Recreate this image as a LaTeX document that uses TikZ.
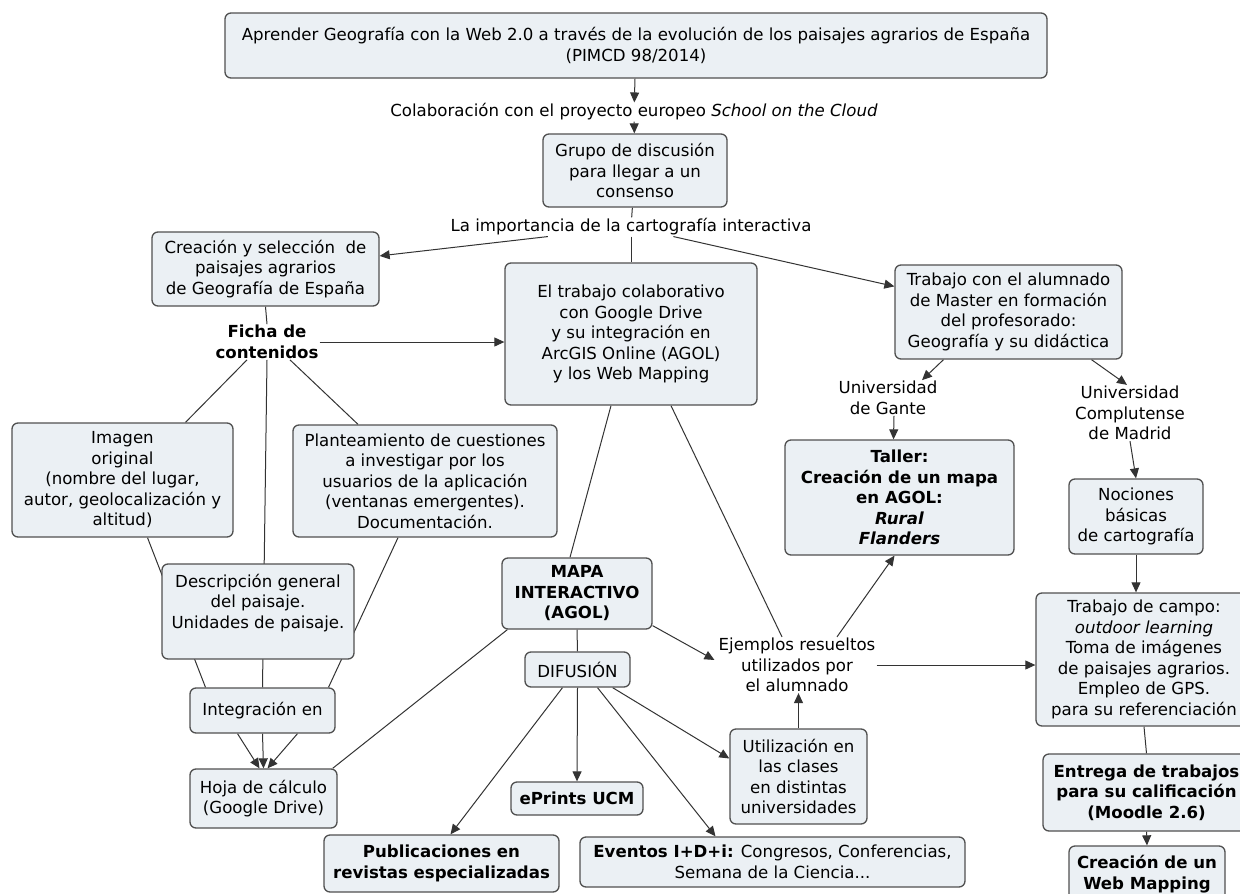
\documentclass[tikz,border=0pt]{standalone}
\usepackage{fontspec}
\setmainfont{DejaVu Sans}
\usetikzlibrary{arrows.meta,backgrounds}
\definecolor{boxfill}{RGB}{235,240,244}
\definecolor{edge}{RGB}{80,80,80}
\newcommand\mfs{\fontsize{16.6}{20.5}\selectfont}
\pgfdeclarelayer{paper}
\pgfsetlayers{paper,background,main}
\begin{document}
\begin{tikzpicture}[x=1pt,y=-1pt,
  every node/.style={font=\mfs, align=center},
  box/.style={draw=edge, line width=1.3pt, rounded corners=6pt, fill=boxfill, inner sep=2pt},
  lbl/.style={inner sep=1pt},
  ln/.style={draw=black!80, line width=1pt},
  arr/.style={ln, -{Triangle[length=10pt,width=9pt]}}]
\path[use as bounding box, clip] (0,0) rectangle (1240,894);
\begin{pgfonlayer}{paper}
\fill[white] (0,0) rectangle (1240,894);
\end{pgfonlayer}

\node[box, minimum width=822, minimum height=65] (top) at (636,45.5)
  {Aprender Geografía con la Web 2.0 a través de la evolución de los paisajes agrarios de España\\(PIMCD 98/2014)};
\node[lbl] (colab) at (634,112) {Colaboración con el proyecto europeo \textit{School on the Cloud}};
\node[box, minimum width=184, minimum height=73] (grupo) at (635,170.5) {Grupo de discusión\\para llegar a un\\consenso};
\node[lbl] (imp) at (631,227) {La importancia de la cartografía interactiva};
\node[box, minimum width=227, minimum height=74] (crea) at (265.5,269) {Creación y selección~ de\\paisajes agrarios\\de Geografía de España};
\node[lbl, font=\mfs\bfseries] (ficha) at (267,342) {Ficha de\\contenidos};
\node[box, minimum width=252, minimum height=142] (trab) at (631,334) {El trabajo colaborativo\\con Google Drive\\y su integración en\\ArcGIS Online (AGOL)\\y los Web Mapping};
\node[box, minimum width=227, minimum height=94] (alum) at (1008.5,312) {Trabajo con el alumnado\\de Master en formación\\del profesorado:\\Geografía y su didáctica};
\node[lbl] (gante) at (888,398) {Universidad\\de Gante};
\node[lbl] (compl) at (1130,413) {Universidad\\Complutense\\de Madrid};
\node[box, minimum width=229, minimum height=115, font=\mfs\bfseries] (taller) at (899.5,497.5) {Taller:\\Creación de un mapa\\en AGOL:\\\textit{Rural}\\\textit{Flanders}};
\node[box, minimum width=134, minimum height=75] (noc) at (1136,516.5) {Nociones\\básicas\\de cartografía};
\node[box, minimum width=221, minimum height=114] (imagen) at (122.5,480) {Imagen\\original\\(nombre del lugar,\\autor, geolocalización y\\altitud)};
\node[box, minimum width=264, minimum height=112] (plant) at (425,481) {Planteamiento de cuestiones\\a investigar por los\\usuarios de la aplicación\\(ventanas emergentes).\\Documentación.};
\node[box, minimum width=192, minimum height=95] (desc) at (258,611.5) {Descripción general\\del paisaje.\\Unidades de paisaje.\\\mbox{}};
\node[box, minimum width=150, minimum height=71, font=\mfs\bfseries] (mapa) at (577,593.5) {MAPA\\INTERACTIVO\\(AGOL)};
\node[box, minimum width=105, minimum height=35] (difu) at (577.5,669.5) {DIFUSIÓN};
\node[lbl] (ejem) at (797,665) {Ejemplos resueltos\\utilizados por\\el alumnado};
\node[box, minimum width=216, minimum height=133] (campo) at (1144,659.5) {Trabajo de campo:\\\textit{outdoor learning}\\Toma de imágenes\\de paisajes agrarios.\\Empleo de GPS.\\para su referenciación};
\node[box, minimum width=145, minimum height=45] (integ) at (262.5,710.5) {Integración en};
\node[box, minimum width=137, minimum height=95] (util) at (798.5,776.5) {Utilización en\\las clases\\en distintas\\universidades};
\node[box, minimum width=147, minimum height=59] (hoja) at (263.5,798.5) {Hoja de cálculo\\(Google Drive)};
\node[box, minimum width=132, minimum height=33, font=\mfs\bfseries] (eprints) at (577,798.5) {ePrints UCM};
\node[box, minimum width=207, minimum height=77, font=\mfs\bfseries] (entrega) at (1146.5,792.5) {Entrega de trabajos\\para su calificación\\(Moodle 2.6)};
\node[box, minimum width=235, minimum height=57, font=\mfs\bfseries] (publ) at (441.5,863.5) {Publicaciones en\\revistas especializadas};
\node[box, minimum width=385, minimum height=50] (even) at (772.5,862) {\textbf{Eventos I+D+i:} Congresos, Conferencias,\\Semana de la Ciencia...};
\node[box, minimum width=156, minimum height=56, font=\mfs\bfseries] (webmap) at (1147,874) {Creación de un\\Web Mapping};

\begin{pgfonlayer}{background}
\draw[arr] (top) -- (colab);
\draw[arr] (colab) -- (grupo);
\draw[ln] (grupo) -- (imp);
\draw[arr] (imp) -- (crea);
\draw[ln] (imp.south) -- (trab.north);
\draw[arr] (imp) -- (alum);
\draw[ln] (crea.south) -- (ficha.north);
\draw[arr] (ficha.east) -- (ficha.east -| trab.west);
\draw[ln] ([xshift=-20]ficha.south) -- ([xshift=63]imagen.north);
\draw[ln] ([xshift=23]ficha.south) -- ([xshift=-67]plant.north);
\draw[ln] ([xshift=25]imagen.south) -- ([xshift=-57]integ.north);
\draw[ln] (ficha.south) -- (integ.north);
\draw[ln] ([xshift=-27]plant.south) -- ([xshift=66]integ.north);
\draw[arr] ([xshift=-25]integ.south) -- ([xshift=-4]hoja.north);
\draw[arr] (integ.south) -- (hoja.north);
\draw[arr] ([xshift=35]integ.south) -- ([xshift=4]hoja.north);
\draw[ln] ([xshift=-20]trab.south) -- ([xshift=-7]mapa.north);
\draw[ln] ([xshift=40]trab.south) -- ([xshift=-15]ejem.north);
\draw[ln] ([xshift=6]mapa.south west) -- ([xshift=-5]hoja.north east);
\draw[ln] (mapa.south) -- (difu.north);
\draw[arr] ([yshift=4]mapa.south east) -- ([xshift=-3,yshift=5]ejem.west);
\draw[arr] ([xshift=-15]difu.south) -- ([xshift=9]publ.north);
\draw[arr] (difu.south) -- (eprints.north);
\draw[arr] ([xshift=20]difu.south) -- ([xshift=-57]even.north);
\draw[arr] ([xshift=-18]difu.south east) -- ([yshift=18]util.west);
\draw[arr] (util.north) -- (util.north |- ejem.south);
\draw[arr] ([xshift=40]ejem.north) -- ([xshift=-5]taller.south);
\draw[arr] (ejem.east) -- (ejem.east -| campo.west);
\draw[arr] ([xshift=-65]alum.south) -- ([xshift=34]gante.north);
\draw[arr] ([xshift=83]alum.south) -- ([xshift=-3]compl.north);
\draw[arr] ([xshift=6]gante.south) -- ([xshift=-6]taller.north);
\draw[arr] (compl.south) -- (noc.north);
\draw[arr] (noc.south) -- (noc.south |- campo.north);
\draw[ln] (campo.south) -- (entrega.north);
\draw[arr] (entrega.south) -- (webmap.north);
\end{pgfonlayer}
\end{tikzpicture}
\end{document}
